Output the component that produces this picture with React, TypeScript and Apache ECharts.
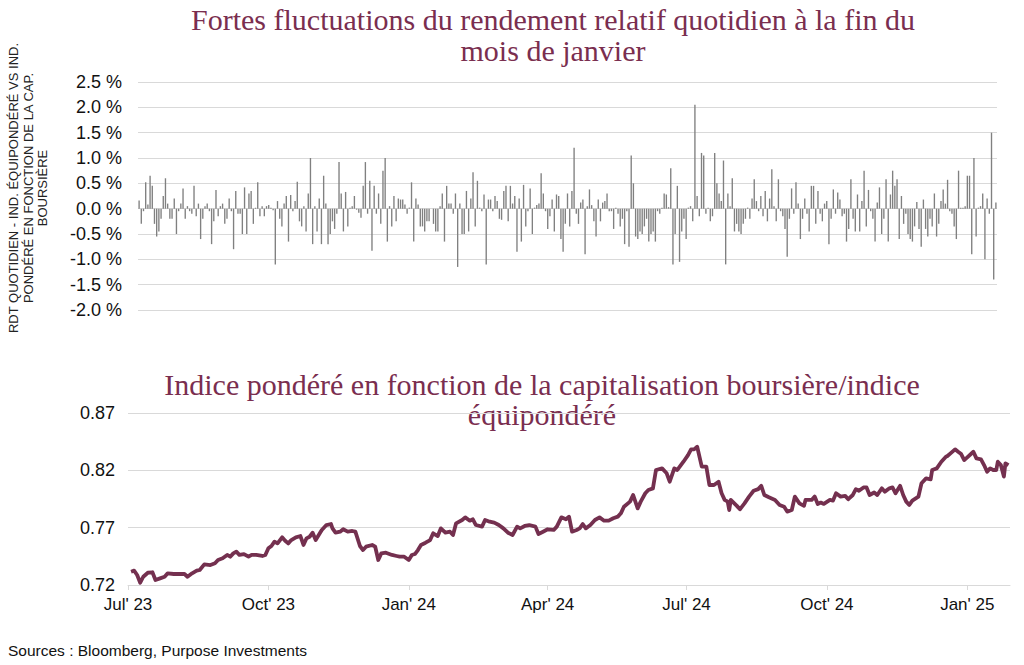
import React, { useEffect, useRef } from "react";
import * as echarts from "echarts";

// ---- Top chart: daily relative return (%), Jul 2023 -> Jan 2025 ----
const RET_2023_Q3 = [
  0.16, -0.3, -0.05, 0.52, 0.08, 0.65, 0.45, -0.3, -0.55, -0.45,
  -0.2, 0.25, 0.6, 0.1, -0.2, -0.2, 0.2, -0.5, -0.05, 0.1,
  0.4, -0.2, 0.05, -0.05, -0.1, 0.45, -0.15, 0.1, -0.6, -0.2,
  0.05, 0.1, -0.05, -0.7, -0.25, 0.37, -0.15, 0.05, 0.1, -0.3,
  -0.2, 0.2, -0.05, -0.8, 0.35, -0.1, -0.1, -0.5, 0.42, -0.5,
  0.3, 0.35, -0.3, 0.02, 0.52, -0.15, 0.05, -0.15, 0.05, 0.07,
  0.02, -0.03, -1.1, 0.15, -0.2, -0.35, 0.1, 0.25, -0.65, 0.27,
  -0.05, 0.15, 0.53, -0.25, -0.35, 0.05, -0.45, 0.3,
];
const RET_2023_Q4 = [
  1.0, -0.7, 0.05, -0.45, 0.2, -0.7, 0.65, 0.1, -0.7, -0.5,
  -0.25, -0.4, -0.1, 0.92, 0.3, -0.45, 0.33, -0.35, 0.02, 0.05,
  0.25, -0.02, -0.08, -0.18, 0.45, 0.92, -0.1, 0.55, -0.83, 0.45,
  -0.1, 0.3, -0.3, 0.75, 1.0, -0.65, 0.05, -0.35, 0.25, -0.25,
  0.2, 0.18, 0.18, 0.08, -0.1, 0.02, 0.52, -0.65, 0.2, 0.08,
  -0.35, -0.35, -0.45, -0.25, -0.25, 0.0, -0.3, -0.45, -0.45, 0.05,
  0.3, -0.65, 0.45, 0.1, 0.1, -0.1, 0.3, -1.15, 0.1, -0.5,
  -0.5, 0.35, -0.45, 0.2, 0.72, -0.35, 0.55,
];
const RET_2024_H1 = [
  0.02, -0.05, 0.28, -1.1, 0.18, 0.18, -0.05, 0.25, 0.15, -0.2,
  -0.22, 0.35, 0.45, -0.25, 0.45, 0.1, 0.25, -0.85, 0.2, -0.65,
  0.47, -0.35, -0.05, 0.4, -0.5, 0.02, 0.07, 0.1, 0.7, 0.3,
  -0.05, -0.4, -0.15, 0.18, -0.45, 0.28, 0.25, -0.6, -0.85, -0.3,
  0.3, -0.35, 0.35, 1.2, -0.1, -0.3, 0.12, 0.18, -0.9, 0.05,
  0.38, 0.07, -0.25, -0.55, 0.18, -0.25, 0.12, 0.15, 0.3, -0.05,
  -0.05, -0.4, 0.02, -0.1, -0.35, -0.2, -0.7, -0.05, -0.75, 1.05,
  0.5, -0.55, -0.6, -0.45, -0.5, -0.35, -0.2, -0.65, -0.5,
];
const RET_2024_Q3 = [
  -0.45, -0.65, -0.05, -0.1, 0.02, 0.3, 0.28, 0.03, 0.8, -1.1,
  -0.5, 0.45, -1.05, -0.45, -0.2, -0.6, 0.02, 0.05, -0.25, 2.05,
  0.25, -0.15, 1.1, 1.05, -0.1, 0.02, -0.25, -0.15, 1.1, 0.5,
  0.3, 0.15, 0.95, -1.1, 0.3, 0.05, 0.6, -0.45, -0.3, -0.45,
  -0.5, -0.3, -0.2, 0.02, -0.2, 0.2, 0.58, 0.15, -0.05, 0.25,
  -0.15, 0.35, -0.25, 0.2, 0.78, 0.05, -0.25, 0.58, -0.05, -0.15,
  -0.4, -0.95, -0.2, 0.4, -0.1, 0.52, 0.1, -0.6, -0.2, 0.2,
  -0.1, -0.45, 0.45, 0.45, -0.3, 0.35, -0.1, -0.25, 0.1,
];
const RET_2024_Q4_JAN25 = [
  0.15, -0.7, -0.2, 0.38, -0.1, 0.32, 0.18, -0.15, -0.1, -0.65,
  -0.4, 0.58, -0.2, -0.45, 0.28, -0.45, 0.15, 0.75, -0.35, 0.37,
  -0.05, -0.2, -0.65, 0.12, 0.42, -0.5, -0.2, 0.58, -0.65, 0.28,
  0.75, 0.45, 0.58, -0.6, 0.25, -0.3, -0.1, -0.5, -0.6, -0.65,
  -0.35, 0.13, -0.4, -0.75, 0.18, -0.4, -0.55, -0.2, -0.35, 0.3,
  -0.55, -0.3, 0.15, 0.38, 0.1, 0.57, -0.05, -0.1, -0.35, -0.6,
  0.75, 0.02, 0.02, 0.05, 0.65, 0.65, -0.9, 1.0, -0.55, 0.02,
  0.05, 0.3, -1.0, 0.2, -0.1, 1.5, -1.4, 0.12,
];
const DAILY_RETURNS = [
  ...RET_2023_Q3,
  ...RET_2023_Q4,
  ...RET_2024_H1,
  ...RET_2024_Q3,
  ...RET_2024_Q4_JAN25,
];
const TRADING_DAYS = DAILY_RETURNS.map((_, i) => String(i + 1));
const RET_TICKS = [-2, 2.5, 0.5]; // min, max, step

// ---- Bottom chart: cap-weighted / equal-weighted ratio ----
// day offsets counted from 1 Jul 2023
const LINE_END_DAY = 578;
const LINE_DAY = [
  2, 4, 6, 8, 10, 13, 16, 18, 21, 24, 26, 30, 34, 37, 39, 42, 45, 47, 50, 54,
  57, 59, 62, 65, 67, 69, 71, 73, 76, 79, 81, 84, 88, 90, 92, 94, 96, 98, 101, 103,
  105, 107, 110, 113, 115, 117, 119, 121, 123, 125, 127, 130, 133, 134, 136, 139, 141, 144, 147, 149,
  152, 154, 156, 160, 162, 164, 166, 169, 173, 176, 178, 181, 184, 186, 188, 190, 192, 195, 198, 200,
  203, 205, 208, 211, 213, 215, 219, 221, 224, 226, 228, 232, 234, 237, 240, 243, 246, 249, 252, 255,
  257, 260, 263, 267, 269, 272, 275, 279, 281, 284, 287, 289, 291, 294, 296, 298, 300, 303, 306, 309,
  312, 315, 318, 321, 323, 325, 329, 331, 334, 336, 339, 341, 344, 346, 350, 353, 355, 358, 360, 364,
  367, 369, 371, 373, 376, 379, 381, 384, 387, 389, 391, 393, 394, 395, 399, 401, 404, 407, 410, 413,
  415, 417, 420, 424, 427, 430, 432, 435, 437, 440, 443, 444, 448, 450, 452, 454, 456, 460, 462, 464,
  467, 470, 472, 475, 477, 479, 482, 484, 486, 489, 491, 494, 496, 499, 501, 503, 506, 508, 510, 512,
  514, 518, 520, 523, 526, 527, 530, 533, 536, 537, 539, 542, 544, 546, 548, 550, 554, 556, 559, 561,
  563, 565, 567, 569, 570, 572, 574, 575, 577,
];
const LINE_VALUE = [
  0.7316, 0.7325, 0.7287, 0.722, 0.7272, 0.7307, 0.7311, 0.7244, 0.7258, 0.7272, 0.7302, 0.7296, 0.7296, 0.7296, 0.7272, 0.7302, 0.7325, 0.7331, 0.738, 0.7374,
  0.7389, 0.7418, 0.7433, 0.7462, 0.7447, 0.7476, 0.7491, 0.7462, 0.747, 0.7447, 0.7462, 0.7462, 0.7453, 0.7462, 0.752, 0.754, 0.7578, 0.7563, 0.7616, 0.7586,
  0.7563, 0.7592, 0.7616, 0.7627, 0.7549, 0.7607, 0.7621, 0.7656, 0.7592, 0.7636, 0.768, 0.7723, 0.7732, 0.7694, 0.7656, 0.7665, 0.7686, 0.7665, 0.7671, 0.7665,
  0.754, 0.7505, 0.7534, 0.7549, 0.7534, 0.7418, 0.7476, 0.7482, 0.7462, 0.7453, 0.7447, 0.7447, 0.7418, 0.7462, 0.747, 0.7505, 0.7549, 0.7569, 0.7592, 0.7651,
  0.7627, 0.7694, 0.7656, 0.7665, 0.7636, 0.7738, 0.7767, 0.779, 0.7761, 0.7773, 0.7723, 0.7709, 0.7767, 0.7752, 0.7744, 0.7723, 0.7694, 0.7656, 0.7636, 0.7709,
  0.7694, 0.7715, 0.7723, 0.7709, 0.7645, 0.7665, 0.7686, 0.768, 0.7709, 0.779, 0.7773, 0.7796, 0.7665, 0.768, 0.7694, 0.7732, 0.7694, 0.7723, 0.7767, 0.779,
  0.7761, 0.7761, 0.7782, 0.7796, 0.7825, 0.7883, 0.7927, 0.7985, 0.7868, 0.7927, 0.8, 0.8029, 0.8043, 0.8203, 0.8217, 0.8174, 0.8101, 0.8217, 0.8203, 0.8275,
  0.8333, 0.8383, 0.8383, 0.8406, 0.8232, 0.8232, 0.8072, 0.8072, 0.8101, 0.8, 0.7942, 0.7927, 0.7854, 0.7942, 0.789, 0.786, 0.7912, 0.7971, 0.8022, 0.8036,
  0.8065, 0.7985, 0.7965, 0.7942, 0.7898, 0.7883, 0.784, 0.7854, 0.7971, 0.7912, 0.789, 0.7942, 0.7942, 0.7971, 0.7907, 0.7919, 0.7907, 0.7942, 0.7936, 0.8,
  0.7971, 0.7977, 0.7948, 0.7985, 0.8036, 0.8022, 0.8051, 0.8051, 0.7985, 0.8007, 0.7985, 0.8043, 0.8014, 0.8043, 0.8051, 0.8, 0.8065, 0.7985, 0.7927, 0.7898,
  0.7936, 0.7971, 0.8087, 0.813, 0.8121, 0.8203, 0.8217, 0.8275, 0.8319, 0.8325, 0.8348, 0.8383, 0.8362, 0.8342, 0.829, 0.8313, 0.8362, 0.8304, 0.8296, 0.8246,
  0.8188, 0.8217, 0.8203, 0.8203, 0.8275, 0.8246, 0.8145, 0.8261, 0.8246,
];
const RATIO_TICKS = [0.72, 0.87, 0.05]; // min, max, step
// quarter starts as day offsets from 1 Jul 2023, with their labels
const QUARTER_DAYS = [0, 92, 184, 275, 366, 458, 550];
const QUARTER_LABELS = ["Jul' 23", "Oct' 23", "Jan' 24", "Apr' 24", "Jul' 24", "Oct' 24", "Jan' 25"];

const TITLE_COLOR = "#7a2e4f";
const LINE_COLOR = "#74304f";
const BAR_COLOR = "#808080";
const GRID_COLOR = "#d9d9d9";
const SERIF = '"Liberation Serif", "Times New Roman", serif';
const SANS = '"Liberation Sans", Arial, sans-serif';

export default function App() {
  const ref = useRef<HTMLDivElement>(null);
  useEffect(() => {
    if (!ref.current) return;
    const chart = echarts.init(ref.current, null, { renderer: "svg" });
    const ratioBase = RATIO_TICKS[0];
    const lineData = LINE_DAY.map((d, i) => [d, LINE_VALUE[i] - ratioBase]);
    const titleFont = `30px ${SERIF}`;

    chart.setOption({
      animation: false,
      backgroundColor: "#ffffff",
      textStyle: { fontFamily: SANS },
      graphic: [
        { type: "text", x: 553, y: 19, style: { text: "Fortes fluctuations du rendement relatif quotidien à la fin du", font: titleFont, fill: TITLE_COLOR, textAlign: "center", textVerticalAlign: "middle" } },
        { type: "text", x: 553, y: 50, style: { text: "mois de janvier", font: titleFont, fill: TITLE_COLOR, textAlign: "center", textVerticalAlign: "middle" } },
        { type: "text", x: 542, y: 384, style: { text: "Indice pondéré en fonction de la capitalisation boursière/indice", font: titleFont, fill: TITLE_COLOR, textAlign: "center", textVerticalAlign: "middle" } },
        { type: "text", x: 542, y: 414, style: { text: "équipondéré", font: titleFont, fill: TITLE_COLOR, textAlign: "center", textVerticalAlign: "middle" } },
        {
          type: "text", x: 28, y: 188, rotation: Math.PI / 2,
          style: { text: "RDT QUOTIDIEN - IND. ÉQUIPONDÉRÉ VS IND.\nPONDÉRÉ EN FONCTION DE LA CAP.\nBOURSIÈRE", font: `13px ${SANS}`, lineHeight: 14.5, fill: "#222", textAlign: "center", textVerticalAlign: "middle" },
        },
        { type: "text", x: 8, y: 650, style: { text: "Sources : Bloomberg, Purpose Investments", font: `15.5px ${SANS}`, fill: "#111", textAlign: "left", textVerticalAlign: "middle" } },
      ],
      grid: [
        { left: 138, top: 82, width: 859, height: 228 },
        { left: 128, top: 413, width: 882, height: 172 },
      ],
      xAxis: [
        { type: "category", gridIndex: 0, data: TRADING_DAYS, axisLine: { show: false }, axisTick: { show: false }, axisLabel: { show: false }, splitLine: { show: false } },
        {
          type: "value", gridIndex: 1, min: 0, max: LINE_END_DAY,
          axisLine: { show: true, lineStyle: { color: GRID_COLOR, width: 1 } },
          axisTick: { show: true, customValues: QUARTER_DAYS, length: 5, lineStyle: { color: GRID_COLOR } },
          axisLabel: {
            customValues: QUARTER_DAYS, fontSize: 17, color: "#111", margin: 11, fontFamily: SANS,
            formatter: (v: number) => QUARTER_LABELS[QUARTER_DAYS.indexOf(Math.round(v))] ?? "",
          },
          splitLine: { show: false },
        },
      ],
      yAxis: [
        {
          type: "value", gridIndex: 0, min: RET_TICKS[0], max: RET_TICKS[1], interval: RET_TICKS[2],
          axisLine: { show: false }, axisTick: { show: false },
          axisLabel: { fontSize: 18, color: "#111", margin: 16, fontFamily: SANS, formatter: (v: number) => `${v.toFixed(1)} %` },
          splitLine: { lineStyle: { color: GRID_COLOR, width: 1 } },
        },
        {
          type: "value", gridIndex: 1, min: 0, max: RATIO_TICKS[1] - ratioBase, interval: RATIO_TICKS[2],
          axisLine: { show: false }, axisTick: { show: false },
          axisLabel: { fontSize: 18, color: "#111", margin: 13, fontFamily: SANS, formatter: (v: number) => (v + ratioBase).toFixed(2) },
          splitLine: { lineStyle: { color: GRID_COLOR, width: 1 } },
        },
      ],
      series: [
        { type: "bar", xAxisIndex: 0, yAxisIndex: 0, data: DAILY_RETURNS, barWidth: "62%", itemStyle: { color: BAR_COLOR } },
        { type: "line", xAxisIndex: 1, yAxisIndex: 1, data: lineData, showSymbol: false, symbol: "none", lineStyle: { width: 3.8, color: LINE_COLOR, join: "round" } },
      ],
    });
    return () => chart.dispose();
  }, []);
  return <div ref={ref} style={{ position: "fixed", left: 0, top: 0, width: 1024, height: 665, background: "#fff" }} />;
}
